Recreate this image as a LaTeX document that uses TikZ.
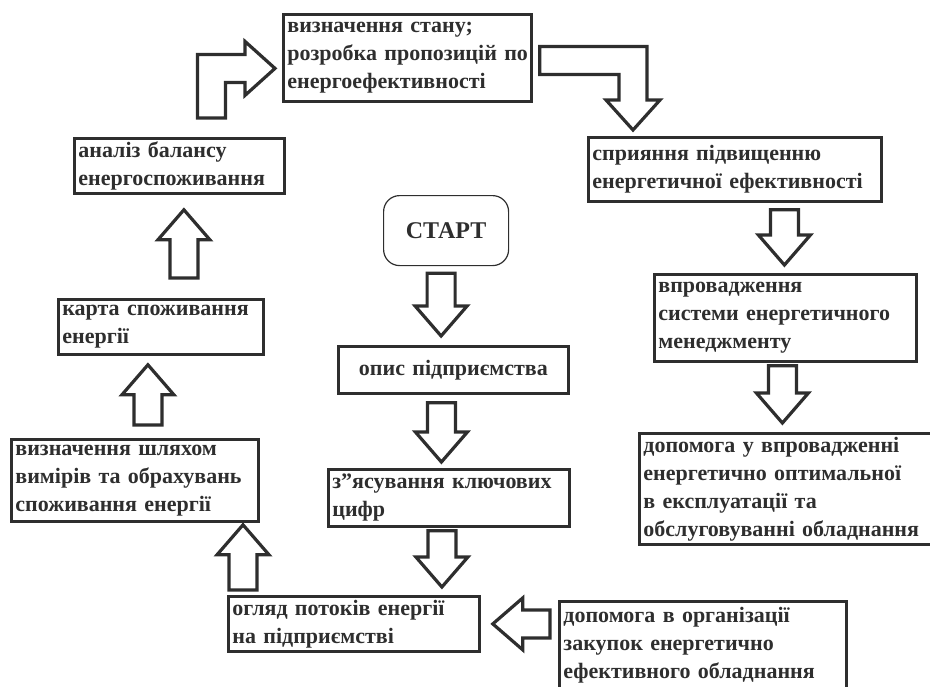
\documentclass[tikz,border=0pt]{standalone}
\usepackage{fontspec}
\setmainfont{Liberation Serif}
\usetikzlibrary{calc}

\definecolor{ink}{gray}{0.18}

% hollow block arrow from #1 to #2
\newcommand\blockarr[2]{%
  \coordinate (ba-s) at (#1);
  \coordinate (ba-e) at (#2);
  \coordinate (ba-b) at ($(ba-e)!15pt!(ba-s)$);
  \draw[blk] ($(ba-s)!7pt!90:(ba-e)$) -- ($(ba-b)!7pt!90:(ba-e)$)
    -- ($(ba-b)!13pt!90:(ba-e)$) -- (ba-e) -- ($(ba-b)!13pt!-90:(ba-e)$)
    -- ($(ba-b)!7pt!-90:(ba-e)$) -- ($(ba-s)!7pt!-90:(ba-e)$) -- cycle;
}

\begin{document}
\begin{tikzpicture}[
  x=0.5pt, y=-0.5pt,
  box/.style={draw=ink, line width=1.4pt, anchor=north west, align=left,
    inner xsep=2pt, inner ysep=1pt, text=ink,
    font=\bfseries\fontsize{11}{14}\selectfont},
  startbox/.style={draw=ink, line width=0.6pt, rounded corners=8pt, anchor=north west,
    minimum width=62.5pt, minimum height=35pt, text=ink,
    font=\bfseries\fontsize{12}{14}\selectfont},
  blk/.style={draw=ink, line width=1.6pt, fill=white, line join=miter}
]
\useasboundingbox (0,0) rectangle (930,686);
\clip (0,0) rectangle (930,686);
% --- blocks ---
\node[box, text width=120pt, minimum height=43.5pt] (state) at (282,13)
  {визначення стану;\\\mbox{розробка пропозицій по}\\енергоефективності};
\node[box, text width=142.5pt, minimum height=32pt] (support) at (587,136)
  {сприяння підвищенню\\\mbox{енергетичної ефективності}};
\node[box, text width=101pt, minimum height=27.5pt] (analysis) at (73,137)
  {аналіз балансу\\енергоспоживання};
\node[startbox] (start) at (383,195) {СТАРТ};
\node[box, text width=127pt, minimum height=43.5pt] (impl) at (653,273)
  {впровадження\\\mbox{системи енергетичного}\\менеджменту};
\node[box, text width=98.5pt, minimum height=27.5pt] (map) at (57,298)
  {\mbox{карта споживання}\\енергії};
\node[box, align=center, text width=111pt, minimum height=23.5pt] (desc) at (337,345)
  {опис підприємства};
\node[box, text width=119.5pt, minimum height=41pt] (measure) at (10,438)
  {визначення шляхом\\\mbox{вимірів та обрахувань}\\\mbox{споживання енергії}};
\node[box, text width=142pt, minimum height=55.5pt] (help) at (638,432)
  {\mbox{допомога у впровадженні}\\\mbox{енергетично оптимальної}\\в експлуатації та\\\mbox{обслуговуванні обладнання}};
\node[box, text width=116.5pt, minimum height=28.5pt] (keys) at (327,468)
  {\mbox{з"ясування ключових}\\цифр};
\node[box, text width=121.5pt, minimum height=27.5pt] (flows) at (227,595)
  {\mbox{огляд потоків енергії}\\на підприємстві};
\node[box, text width=139.5pt, minimum height=43.5pt] (purchase) at (558,600)
  {\mbox{допомога в організації}\\\mbox{закупок енергетично}\\\mbox{ефективного обладнання}};
% --- straight arrows ---
\blockarr{$(start.south)+(-5,7)$}{$(start.south |- desc.north)+(-5,-9)$}
\blockarr{$(desc.south)+(-12,8)$}{$(desc.south |- keys.north)+(-12,-6)$}
\blockarr{$(keys.south)+(-7,3)$}{$(keys.south |- flows.north)+(-7,-8)$}
\blockarr{$(flows.north west)+(16,-5)$}{$(flows.north west |- measure.south)+(16,2)$}
\blockarr{$(measure.north)+(13,-13)$}{$(measure.north |- map.south)+(13,9)$}
\blockarr{$(map.north)+(23,-20)$}{$(map.north |- analysis.south)+(23,15)$}
\blockarr{$(impl.north |- support.south)+(-1,7)$}{$(impl.north)+(-1,-8)$}
\blockarr{$(impl.south)+(-3,3)$}{$(impl.south |- help.north)+(-3,-9)$}
\blockarr{$(flows.east -| purchase.west)+(-8,0)$}{$(flows.east)+(12,0)$}
% --- bent arrows ---
\coordinate (ls) at ($(analysis.north)+(32,-19)$);
\coordinate (le) at ($(state.west)+(-7,10.5)$);
\coordinate (lc) at (ls |- le);
\draw[blk] ($(ls)+(-14,0)$) -- ($(lc)+(-14,-14)$) -- ($(le)+(-30,-14)$)
  -- ($(le)+(-30,-27)$) -- (le) -- ($(le)+(-30,27)$) -- ($(le)+(-30,14)$)
  -- ($(lc)+(14,14)$) -- ($(ls)+(14,0)$) -- cycle;
\coordinate (rs) at ($(state.east)+(7,2.5)$);
\coordinate (re) at ($(support.north west)+(46,-6)$);
\coordinate (rc) at (re |- rs);
\draw[blk] ($(rs)+(0,-14)$) -- ($(rc)+(14,-14)$) -- ($(re)+(14,-30)$)
  -- ($(re)+(27,-30)$) -- (re) -- ($(re)+(-27,-30)$) -- ($(re)+(-14,-30)$)
  -- ($(rc)+(-14,14)$) -- ($(rs)+(0,14)$) -- cycle;
\end{tikzpicture}
\end{document}
